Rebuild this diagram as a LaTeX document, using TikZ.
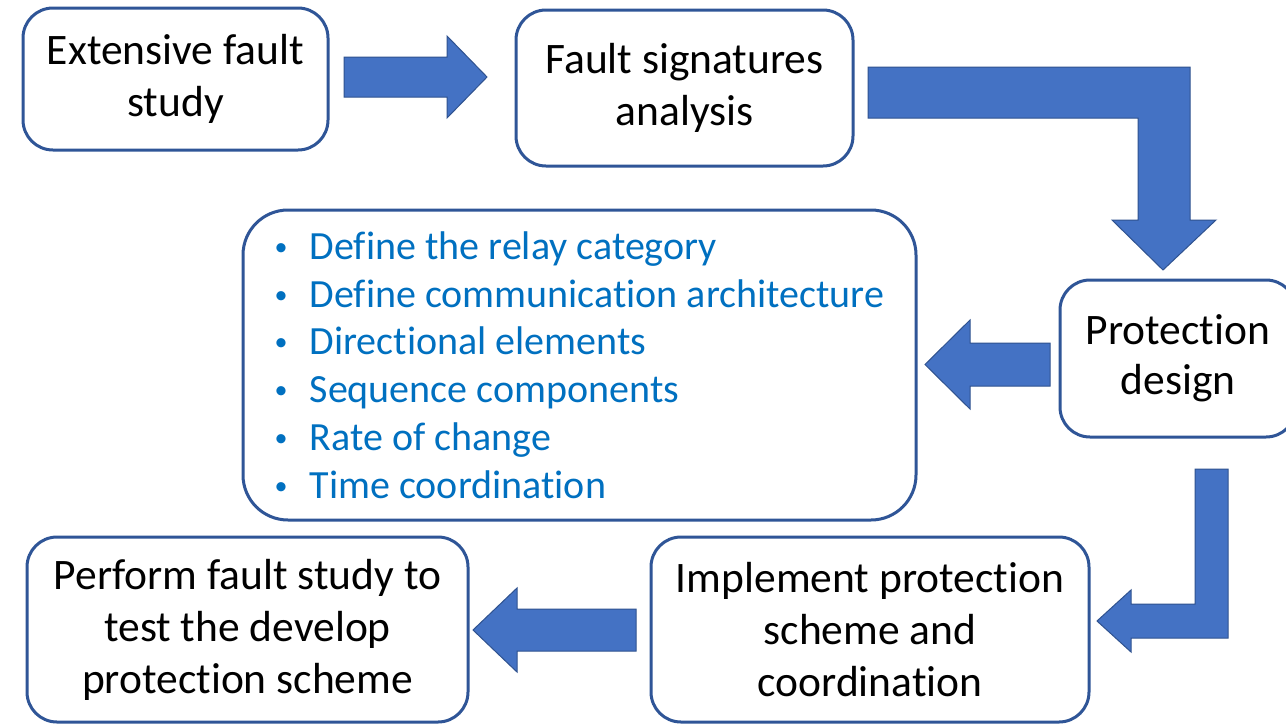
\documentclass[tikz,border=0pt]{standalone}
\usepackage{fontspec}
\setmainfont{Carlito}[Ligatures=CommonOff]
\definecolor{boxblue}{HTML}{2F5597}
\definecolor{arrowfill}{HTML}{4472C4}
\definecolor{arrowline}{HTML}{2F528F}
\definecolor{listblue}{HTML}{0070C0}
\newcommand{\itm}{\makebox[35pt][l]{\raisebox{4pt}{\fontsize{26}{26}\selectfont •}}}
\begin{document}
\begin{tikzpicture}[x=1pt,y=-1pt,
  box/.style={draw=boxblue, line width=3pt, rounded corners=30pt, fill=white, align=center,
    font=\fontsize{43.5}{52}\selectfont, inner sep=0pt},
  blockarrow/.style={fill=arrowfill, draw=arrowline, line width=1pt}]
\useasboundingbox (0,0) rectangle (1286,724);
\fill[white] (0,0) rectangle (1286,724);

\node[box, minimum width=305pt, minimum height=142pt] (b1) at (175.5,79) {Extensive fault\\study};
\node[box, minimum width=337pt, minimum height=156pt] (b2) at (684.5,88) {Fault signatures\\analysis};
\node[box, minimum width=236pt, minimum height=157pt, font=\fontsize{43.5}{50}\selectfont] (b3) at (1178,358.5) {Protection\\design};
\node[box, rounded corners=45pt, minimum width=673pt, minimum height=310pt] (list) at (579.5,365) {};
\node[anchor=west, align=left, text=listblue, inner sep=0pt, font=\fontsize{40}{47.8}\selectfont] (items) at ([xshift=33pt]list.west)
 {\itm Define the relay category\\
  \itm Define communication architecture\\
  \itm Directional elements\\
  \itm Sequence components\\
  \itm Rate of change\\
  \itm Time coordination};
\node[box, minimum width=438pt, minimum height=185pt] (b4) at (870,629.5) {Implement protection\\scheme and\\coordination};
\node[box, minimum width=441pt, minimum height=185pt] (b5) at (247.5,629.5) {Perform fault study to\\test the develop\\protection scheme};

% block arrows
\draw[blockarrow] (344,57) -- (447,57) -- (447,36) -- (487,77) -- (447,118) -- (447,97) -- (344,97) -- cycle;
\draw[blockarrow] (868,67) -- (1190,67) -- (1190,220) -- (1216,220) -- (1163,270) -- (1112,220) -- (1138,220) -- (1138,118) -- (868,118) -- cycle;
\draw[blockarrow] (1050,343) -- (970,343) -- (970,320) -- (925,364.5) -- (970,409) -- (970,386) -- (1050,386) -- cycle;
\draw[blockarrow] (1195,469) -- (1228,469) -- (1228,638) -- (1131,638) -- (1131,652) -- (1097,621) -- (1131,590) -- (1131,604) -- (1195,604) -- cycle;
\draw[blockarrow] (636,609) -- (517,609) -- (517,588) -- (473,630) -- (517,672) -- (517,651) -- (636,651) -- cycle;
\end{tikzpicture}
\end{document}
